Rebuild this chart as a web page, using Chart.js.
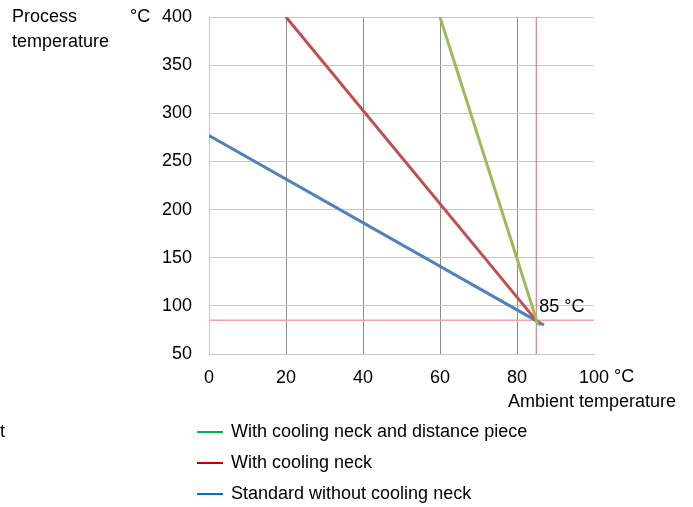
<!DOCTYPE html>
<html>
<head>
<meta charset="utf-8">
<script src="https://cdn.jsdelivr.net/npm/chart.js@4/dist/chart.umd.min.js"></script>
<style>
  html, body { margin: 0; padding: 0; background: #fff; }
  #wrap { width: 693px; height: 507px; position: relative; }
</style>
</head>
<body>
<div id="wrap"><canvas id="chart"></canvas></div>
<script>
// series: [ambient °C, process °C]
const distancePiece = [[60, 400], [85.5, 80]];
const coolingNeck = [[20, 400], [86, 80]];
const standard = [[0, 277], [87, 80]];
const limitX = 85;
const limitY = 85;

const xTicks = [0, 20, 40, 60, 80, 100];
const yTicks = [50, 100, 150, 200, 250, 300, 350, 400];

const legendLabels = ['With cooling neck and distance piece', 'With cooling neck', 'Standard without cooling neck'];
const legendColors = ['#00b050', '#c00000', '#0070c0'];

const FONT = '"Liberation Sans", Arial, sans-serif';
const toPts = arr => arr.map(p => ({ x: p[0], y: p[1] }));

const overlay = {
  id: 'overlay',
  afterDraw(chart) {
    const { ctx, scales: { x, y } } = chart;
    ctx.save();
    ctx.fillStyle = '#000';
    ctx.font = '18px ' + FONT;
    ctx.textBaseline = 'middle';
    ctx.textAlign = 'left';
    ctx.fillText('Process', 12, 17);
    ctx.fillText('temperature', 12, 42);
    ctx.fillText('°C', 130, y.getPixelForValue(400));
    ctx.fillText('°C', 614, 377);
    ctx.fillText('Ambient temperature', 508, 402);
    ctx.fillText('t', 0, 432);
    ctx.fillText('85 °C', x.getPixelForValue(limitX) + 3, y.getPixelForValue(limitY) - 13);
    // legend
    legendLabels.forEach((t, i) => {
      const ly = 432 + i * 31;
      ctx.strokeStyle = legendColors[i];
      ctx.lineWidth = 2;
      ctx.beginPath();
      ctx.moveTo(197, ly);
      ctx.lineTo(223, ly);
      ctx.stroke();
      ctx.fillText(t, 231, ly);
    });
    ctx.restore();
  }
};

new Chart(document.getElementById('chart'), {
  type: 'scatter',
  data: {
    datasets: [
      { label: legendLabels[0], data: toPts(distancePiece), showLine: true, borderColor: '#9bbb59', borderWidth: 3, pointRadius: 0 },
      { label: legendLabels[1], data: toPts(coolingNeck), showLine: true, borderColor: '#c0504d', borderWidth: 3, pointRadius: 0 },
      { label: legendLabels[2], data: toPts(standard), showLine: true, borderColor: '#4f81bd', borderWidth: 3, pointRadius: 0 },
      { label: 'limit x', data: [{ x: limitX, y: 50 }, { x: limitX, y: 400 }], showLine: true, borderColor: '#c86878', borderWidth: 1, pointRadius: 0 },
      { label: 'limit y', data: [{ x: 0, y: limitY }, { x: 100, y: limitY }], showLine: true, borderColor: '#f5a0a8', borderWidth: 1.5, pointRadius: 0 }
    ]
  },
  options: {
    responsive: true,
    maintainAspectRatio: false,
    animation: false,
    layout: { padding: { top: 17, right: 99, left: 0, bottom: 0 } },
    plugins: { legend: { display: false }, tooltip: { enabled: false } },
    scales: {
      x: {
        type: 'linear',
        min: 0, max: 100,
        afterBuildTicks: s => { s.ticks = xTicks.map(v => ({ value: v })); },
        afterFit: s => { s.height = 153; s.paddingLeft = 0; s.paddingRight = 0; },
        grid: {
          drawTicks: false,
          color: c => c.tick.value === 0 ? '#c8c8c8' : (c.tick.value === 100 ? 'rgba(0,0,0,0)' : '#8a8a8a')
        },
        border: { color: '#c8c8c8' },
        ticks: { color: '#000', padding: 13, font: { family: FONT, size: 18 } }
      },
      y: {
        type: 'linear',
        min: 50, max: 400,
        afterBuildTicks: s => { s.ticks = yTicks.map(v => ({ value: v })); },
        afterFit: s => { s.width = 209; s.paddingTop = 0; s.paddingBottom = 0; },
        grid: { drawTicks: false, color: '#c8c8c8' },
        border: { color: '#c8c8c8' },
        ticks: { color: '#000', padding: 17, font: { family: FONT, size: 18 } }
      }
    }
  },
  plugins: [overlay]
});
</script>
</body>
</html>
